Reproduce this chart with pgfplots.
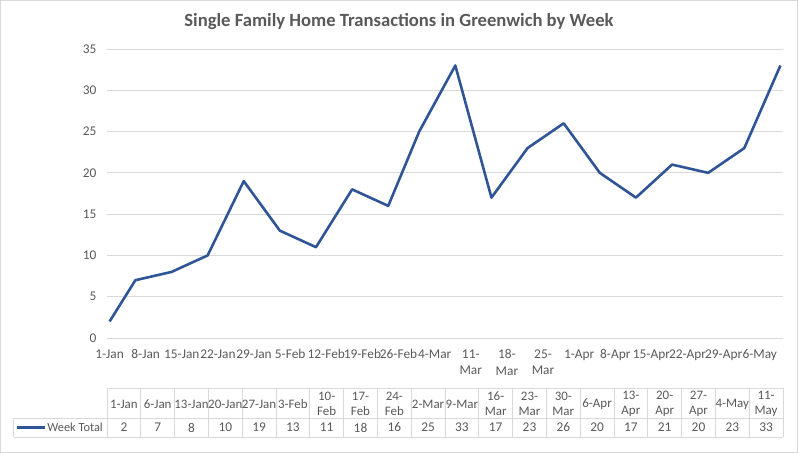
\documentclass[border=0pt]{standalone}
\usepackage{pgfplots}
\pgfplotsset{compat=1.18}
\usepackage{pgfplotstable}
\usepackage{fontspec}
\setmainfont{Carlito}

\definecolor{lineblue}{RGB}{47,85,151}
\definecolor{txt}{RGB}{89,89,89}
\definecolor{gridc}{RGB}{217,217,217}

% day = days after 1-Jan, hdr = data table header
\pgfplotstableread{
day val hdr
0   2   1-Jan
5   7   6-Jan
12  8   13-Jan
19  10  20-Jan
26  19  27-Jan
33  13  3-Feb
40  11  10-\\Feb
47  18  17-\\Feb
54  16  24-\\Feb
60  25  2-Mar
67  33  9-Mar
74  17  16-\\Mar
81  23  23-\\Mar
88  26  30-\\Mar
95  20  6-Apr
102 17  13-\\Apr
109 21  20-\\Apr
116 20  27-\\Apr
123 23  4-May
130 33  11-\\May
}\weeks

\begin{document}
\begin{tikzpicture}[font=\fontsize{13.4}{16.8}\selectfont]
\begin{axis}[
    name=main,
    scale only axis, width=676bp, height=289bp,
    xmin=-0.5, xmax=130.5, ymin=0, ymax=35,
    ytick={0,5,...,35},
    xtick={0,7,...,126},
    xticklabels={1-Jan,8-Jan,15-Jan,22-Jan,29-Jan,5-Feb,12-Feb,19-Feb,26-Feb,4-Mar,{11-\\Mar},{18-\\Mar},{25-\\Mar},1-Apr,8-Apr,15-Apr,22-Apr,29-Apr,6-May},
    xticklabel style={align=center, text=txt, yshift=-8bp},
    yticklabel style={text=txt, xshift=-7bp},
    /pgf/number format/assume math mode=true,
    axis line style={draw=none},
    tick style={draw=none},
    ymajorgrids, major grid style={gridc, line width=0.8bp},
    clip=false,
]
\addplot[lineblue, line width=2.6bp, line join=round, mark=none] table[x=day, y=val] {\weeks};
\end{axis}

\begin{axis}[
    name=tab,
    scale only axis, width=676bp, height=49bp,
    at={(main.south west)}, anchor=north west, yshift=-50bp,
    xmin=0, xmax=20, ymin=0, ymax=49,
    hide axis, clip=false,
]
\draw[gridc, line width=0.8bp] (axis cs:0,49) -- (axis cs:20,49);
\draw[gridc, line width=0.8bp] (axis cs:-2.76,19) -- (axis cs:20,19);
\draw[gridc, line width=0.8bp] (axis cs:-2.76,0) -- (axis cs:20,0);
\draw[gridc, line width=0.8bp] (axis cs:-2.76,0) -- (axis cs:-2.76,19);
\pgfplotsinvokeforeach{0,...,20}{
  \draw[gridc, line width=0.8bp] (axis cs:#1,0) -- (axis cs:#1,49);
}
\addplot[draw=none, mark=none, nodes near coords, point meta=explicit symbolic,
  nodes near coords style={anchor=center, text=txt}]
  table[x expr=\coordindex+0.5, y expr=9.5, meta=val] {\weeks};
\addplot[draw=none, mark=none, nodes near coords, point meta=explicit symbolic,
  nodes near coords style={anchor=center, align=center, text=txt, inner sep=0pt,
    font=\fontsize{13}{15}\selectfont}]
  table[x expr=\coordindex+0.5, y expr=33, meta=hdr] {\weeks};
\draw[lineblue, line width=2.6bp] (axis cs:-2.67,9.5) -- (axis cs:-1.84,9.5);
\node[anchor=east, text=txt, inner sep=0pt, font=\fontsize{12.4}{14}\selectfont] at (axis cs:-0.12,9.5) {Week Total};
\end{axis}

\node[font=\fontsize{18.7}{22}\selectfont\bfseries, text=txt] at ([xshift=-46bp,yshift=27bp]main.north) {Single Family Home Transactions in Greenwich by Week};
\draw[gridc, line width=1bp] ([xshift=-106.5bp,yshift=337.5bp]main.south west) rectangle ([xshift=690.5bp,yshift=-114.5bp]main.south west);
\pgfresetboundingbox
\useasboundingbox ([xshift=-107bp,yshift=338bp]main.south west) rectangle ([xshift=691bp,yshift=-115bp]main.south west);
\end{tikzpicture}
\end{document}
